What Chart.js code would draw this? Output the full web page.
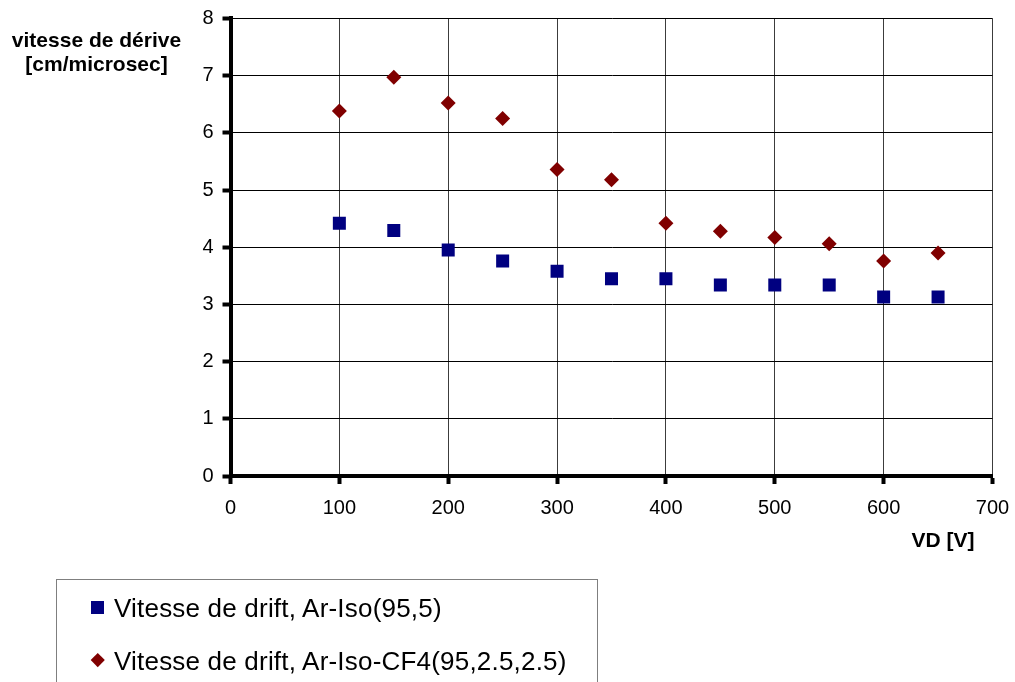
<!DOCTYPE html>
<html>
<head>
<meta charset="utf-8">
<script src="https://cdn.jsdelivr.net/npm/chart.js@4.4.1/dist/chart.umd.min.js"></script>
<style>
  html, body { margin: 0; padding: 0; background: #fff; overflow: hidden; }
  body { width: 1015px; height: 682px; position: relative; font-family: "Liberation Sans", Arial, sans-serif; }
  #c { position: absolute; left: 0; top: 0; }
  .ytitle { position: absolute; left: 0; top: 28px; width: 193px; text-align: center; font-weight: bold; font-size: 21px; line-height: 24px; color: #000; }
  .xtitle { position: absolute; left: 893px; top: 528px; width: 100px; text-align: center; font-weight: bold; font-size: 21px; line-height: 24px; color: #000; }
  .legend { position: absolute; left: 56px; top: 579px; width: 542px; height: 140px; border: 1px solid #7f7f7f; box-sizing: border-box; }
  .item { position: absolute; left: 57px; font-size: 26px; line-height: 30px; letter-spacing: 0.2px; color: #000; white-space: nowrap; }
  .mk { position: absolute; }
</style>
</head>
<body>
<canvas id="c" width="1015" height="682"></canvas>
<div class="ytitle">vitesse de dérive<br>[cm/microsec]</div>
<div class="xtitle">VD [V]</div>
<div class="legend" id="legend"></div>
<script>
const voltages = [100, 150, 200, 250, 300, 350, 400, 450, 500, 550, 600, 650];
const arIso = [4.42, 4.29, 3.95, 3.76, 3.58, 3.45, 3.45, 3.34, 3.34, 3.34, 3.13, 3.13];
const arIsoCF4 = [6.38, 6.97, 6.52, 6.25, 5.36, 5.18, 4.42, 4.28, 4.17, 4.06, 3.76, 3.90];
const xTicks = [0, 100, 200, 300, 400, 500, 600, 700];
const yTicks = [0, 1, 2, 3, 4, 5, 6, 7, 8];
const seriesNames = ["Vitesse de drift, Ar-Iso(95,5)", "Vitesse de drift, Ar-Iso-CF4(95,2.5,2.5)"];
const seriesColors = ["#000080", "#800000"];

const FONT = '"Liberation Sans", Arial, sans-serif';

function pts(ys) { return voltages.map((v, i) => ({ x: v, y: ys[i] })); }

new Chart(document.getElementById('c'), {
  type: 'scatter',
  data: {
    datasets: [
      { label: seriesNames[0], data: pts(arIso), pointStyle: 'rect', pointRadius: 9.2, pointHoverRadius: 9.2,
        backgroundColor: seriesColors[0], borderColor: seriesColors[0], borderWidth: 0 },
      { label: seriesNames[1], data: pts(arIsoCF4), pointStyle: 'rectRot', pointRadius: 7.5, pointHoverRadius: 7.5,
        backgroundColor: seriesColors[1], borderColor: seriesColors[1], borderWidth: 0 }
    ]
  },
  options: {
    responsive: false,
    animation: false,
    events: [],
    layout: { padding: { left: 0, right: 22.5, top: 18.4, bottom: 0 } },
    plugins: { legend: { display: false }, tooltip: { enabled: false } },
    scales: {
      x: {
        type: 'linear', min: 0, max: 700,
        afterBuildTicks: s => { s.ticks = xTicks.map(v => ({ value: v })); },
        afterFit: s => { s.height = 206; s.paddingLeft = 0; s.paddingRight = 0; },
        grid: { color: '#3c3c3c', lineWidth: 1, tickLength: 8, tickWidth: 4, tickColor: '#000' },
        border: { color: '#000', width: 4 },
        ticks: { color: '#000', font: { family: FONT, size: 20 }, padding: 12, maxRotation: 0 }
      },
      y: {
        type: 'linear', min: 0, max: 8,
        afterBuildTicks: s => { s.ticks = yTicks.map(v => ({ value: v })); },
        afterFit: s => { s.width = 230.5; s.paddingTop = 0; s.paddingBottom = 0; },
        grid: { color: '#000', lineWidth: 1, tickLength: 8, tickWidth: 4, tickColor: '#000' },
        border: { color: '#000', width: 4 },
        ticks: { color: '#000', font: { family: FONT, size: 20 }, padding: 9 }
      }
    }
  }
});

// HTML legend
const legend = document.getElementById('legend');
const tops = [13, 66];
seriesNames.forEach((name, i) => {
  const mk = document.createElement('div');
  mk.className = 'mk';
  if (i === 0) {
    Object.assign(mk.style, { left: '34px', top: '21px', width: '13px', height: '13px', background: seriesColors[i] });
  } else {
    Object.assign(mk.style, { left: '35.75px', top: '75.25px', width: '9.5px', height: '9.5px', background: seriesColors[i], transform: 'rotate(45deg)' });
  }
  legend.appendChild(mk);
  const t = document.createElement('div');
  t.className = 'item';
  t.style.top = tops[i] + 'px';
  t.textContent = name;
  legend.appendChild(t);
});
</script>
</body>
</html>
